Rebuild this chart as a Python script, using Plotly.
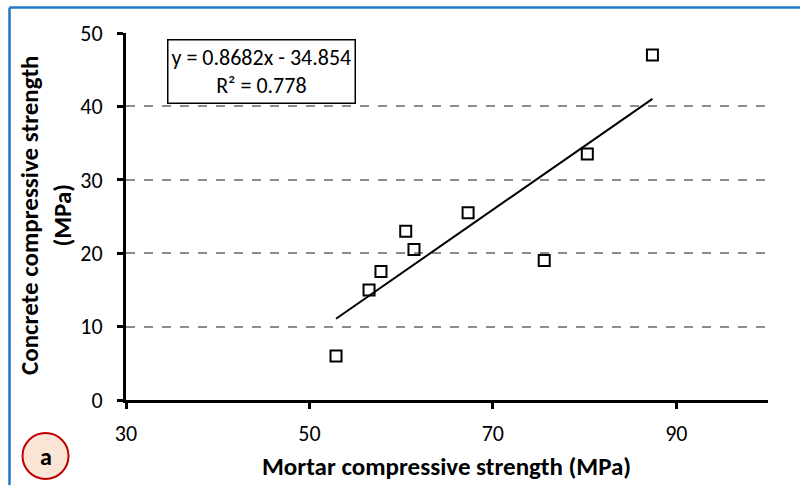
import plotly.graph_objects as go

# Mortar vs concrete compressive strength (MPa)
mortar_mpa = [52.9, 56.5, 57.8, 60.5, 61.4, 67.3, 75.6, 80.3, 87.4]
concrete_mpa = [6.0, 15.0, 17.5, 23.0, 20.5, 25.5, 19.0, 33.5, 47.0]

# Linear fit reported on the chart
slope = 0.8682
intercept = -34.854
r_squared = 0.778

x_ticks = [30, 50, 70, 90]
y_ticks = [0, 10, 20, 30, 40, 50]

W, H = 800, 485
L, R, T, B = 126, 32, 33, 85
PW, PH = W - L - R, H - T - B


def px_x(px):
    return (px - L) / PW


def px_y(py):
    return (H - B - py) / PH


FONT = "Carlito, Lato, sans-serif"

fit_x = [min(mortar_mpa), max(mortar_mpa)]
fit_y = [slope * v + intercept for v in fit_x]

fig = go.Figure()
fig.add_trace(go.Scatter(
    x=fit_x, y=fit_y, mode="lines",
    line=dict(color="black", width=2), showlegend=False, hoverinfo="skip",
))
fig.add_trace(go.Scatter(
    x=mortar_mpa, y=concrete_mpa, mode="markers",
    marker=dict(symbol="square-open", size=11, color="black",
                line=dict(color="black", width=2)),
    showlegend=False,
))

fig.update_layout(
    width=W, height=H,
    margin=dict(l=L, r=R, t=T, b=B),
    paper_bgcolor="white", plot_bgcolor="white",
    font=dict(family=FONT, size=22, color="black"),
    xaxis=dict(
        range=[30, 100], tickvals=x_ticks, showgrid=False, zeroline=False,
        showline=True, linecolor="black", linewidth=3,
        ticks="outside", ticklen=6, tickwidth=3, tickcolor="black",
        ticklabelstandoff=6,
        tickfont=dict(family=FONT, size=22),
    ),
    yaxis=dict(
        range=[0, 50], tickvals=y_ticks, zeroline=False,
        showgrid=True, gridcolor="#8c8c8c", gridwidth=1.5, griddash="dash",
        showline=True, linecolor="black", linewidth=3,
        ticks="outside", ticklen=6, tickwidth=3, tickcolor="black",
        ticklabelstandoff=10,
        tickfont=dict(family=FONT, size=22),
    ),
)

# Axis titles
fig.add_annotation(
    xref="paper", yref="paper", x=px_x(446), y=px_y(467),
    text="<b>Mortar compressive strength (MPa)</b>", showarrow=False,
    xanchor="center", yanchor="middle", font=dict(family=FONT, size=25),
)
fig.add_annotation(
    xref="paper", yref="paper", x=px_x(46), y=px_y(215),
    text="<b>Concrete compressive strength<br>(MPa)</b>", showarrow=False,
    textangle=-90, xanchor="center", yanchor="middle",
    font=dict(family=FONT, size=25),
)

# Regression equation box
fig.add_annotation(
    xref="paper", yref="paper", x=px_x(261), y=px_y(71),
    text=f"y = {slope}x - {abs(intercept)}<br>R² = {r_squared}",
    showarrow=False, xanchor="center", yanchor="middle",
    bgcolor="white", bordercolor="black", borderwidth=1.5, borderpad=3,
    font=dict(family=FONT, size=22),
)

# Panel label "a"
fig.add_shape(
    type="circle", xref="paper", yref="paper",
    x0=px_x(22.5), x1=px_x(68.5), y0=px_y(479), y1=px_y(433),
    fillcolor="#fbe5d6", line=dict(color="#c00000", width=2),
)
fig.add_annotation(
    xref="paper", yref="paper", x=px_x(45.5), y=px_y(456),
    text="<b>a</b>", showarrow=False, xanchor="center", yanchor="middle",
    font=dict(family=FONT, size=24),
)

# Blue frame edges
frame = dict(color="#1f77c8", width=2.5)
fig.add_shape(type="line", xref="paper", yref="paper",
              x0=px_x(9.5), x1=px_x(W + 10), y0=px_y(7.5), y1=px_y(7.5), line=frame)
fig.add_shape(type="line", xref="paper", yref="paper",
              x0=px_x(9.5), x1=px_x(9.5), y0=px_y(7.5), y1=px_y(H + 10), line=frame)

fig.write_html("out.html")
